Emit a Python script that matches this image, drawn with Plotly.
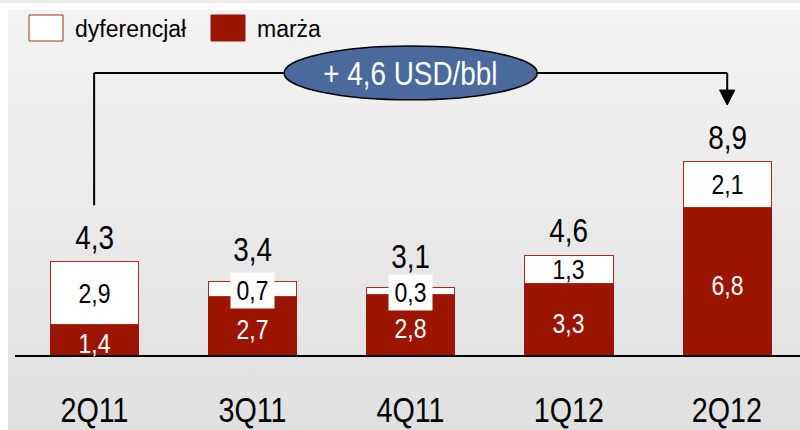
import base64
import json
import plotly.graph_objects as go

categories = ["2Q11", "3Q11", "4Q11", "1Q12", "2Q12"]
marza = [1.4, 2.7, 2.8, 3.3, 6.8]
dyferencjal = [2.9, 0.7, 0.3, 1.3, 2.1]
totals = [4.3, 3.4, 3.1, 4.6, 8.9]
change_label = "+ 4,6 USD/bbl"
legend_names = ["dyferencjał", "marża"]

RED = "#9C1502"
FONT = "Liberation Sans, Arial, sans-serif"

W, H = 800, 430
L, R, T, B = 15, 0, 10, 75
PW, PH = W - L - R, H - T - B


def px(x):
    return (x - L) / PW


def py(y):
    return (H - B - y) / PH


def fmt(v):
    return f"{v:.1f}".replace(".", ",")


fig = go.Figure()
fig.add_trace(go.Bar(
    x=categories, y=marza, name=legend_names[1],
    marker=dict(color=RED, line=dict(color=RED, width=1)),
    showlegend=False, hoverinfo="skip",
))
fig.add_trace(go.Bar(
    x=categories, y=dyferencjal, name=legend_names[0],
    marker=dict(color="white", line=dict(color="#B02A1A", width=1)),
    showlegend=False, hoverinfo="skip",
))

for i, c in enumerate(categories):
    # margin label (white, inside red segment)
    fig.add_annotation(x=c, y=marza[i] / 2, text=fmt(marza[i]), showarrow=False,
                       font=dict(size=28, family=FONT, color="white"), yshift=-4)
    # differential label
    mid = marza[i] + dyferencjal[i] / 2
    small = dyferencjal[i] < 1
    fig.add_annotation(x=c, y=mid, text=fmt(dyferencjal[i]), showarrow=False,
                       font=dict(size=28, family=FONT, color="black"),
                       bgcolor="white" if small else "rgba(0,0,0,0)",
                       borderpad=2, yshift=-2 if small else 0)
    # total label
    fig.add_annotation(x=c, y=totals[i], text=fmt(totals[i]), showarrow=False,
                       font=dict(size=34, family=FONT, color="black"),
                       yanchor="middle", yshift=32 if small else 25)

# x tick labels
for c in categories:
    fig.add_annotation(x=c, y=0, yref="paper", text=c, showarrow=False,
                       font=dict(size=35, family=FONT, color="black"),
                       yanchor="middle", yshift=-54)

# connector arrow from first to last category
i0, i1 = 0, len(categories) - 1
imid = (i0 + i1) / 2
y_line = 13.0
y_start = 6.9
y_tip = 11.52
head_h = 0.69
head_w = 0.048
line_style = dict(color="black", width=2)
fig.add_shape(type="line", x0=i0, x1=i0, y0=y_start, y1=y_line, xref="x", yref="y", line=line_style)
fig.add_shape(type="line", x0=i0, x1=i1, y0=y_line, y1=y_line, xref="x", yref="y", line=line_style)
fig.add_shape(type="line", x0=i1, x1=i1, y0=y_line, y1=y_tip + head_h, xref="x", yref="y", line=line_style)
fig.add_trace(go.Scatter(
    x=[i1 - head_w, i1 + head_w, i1, i1 - head_w], y=[y_tip + head_h, y_tip + head_h, y_tip, y_tip + head_h],
    mode="lines", fill="toself", fillcolor="black", line=dict(color="black", width=1),
    showlegend=False, hoverinfo="skip", xaxis="x2", yaxis="y",
))
fig.add_shape(type="circle", x0=imid - 0.8, x1=imid + 0.8, y0=y_line - 1.24, y1=y_line + 1.24,
              xref="x2", yref="y", fillcolor="#4A6A9C", line=dict(color="black", width=1.5))
fig.add_annotation(x=imid, y=y_line, xref="x2", yref="y", text=change_label, showarrow=False,
                   font=dict(size=34, family=FONT, color="white"))

# background gradient panel
svg = ('<svg xmlns="http://www.w3.org/2000/svg" width="100" height="100" preserveAspectRatio="none">'
       '<defs><linearGradient id="g" x1="0" y1="0" x2="0" y2="1">'
       '<stop offset="0" stop-color="#F3F3F3"/><stop offset="1" stop-color="#E0E0E0"/>'
       '</linearGradient></defs><rect width="100" height="100" fill="url(#g)"/></svg>')
src = "data:image/svg+xml;base64," + base64.b64encode(svg.encode()).decode()
fig.add_layout_image(source=src, xref="paper", yref="paper", x=px(8), y=py(10),
                     sizex=px(W) - px(8), sizey=py(10) - py(H), sizing="stretch",
                     xanchor="left", yanchor="top", layer="below")
fig.add_shape(type="rect", xref="paper", yref="paper", x0=px(0), x1=px(W), y0=py(0), y1=py(3),
              fillcolor="#EBEBEB", line=dict(width=0), layer="below")

# manual legend
fig.add_shape(type="rect", xref="paper", yref="paper", x0=px(29), x1=px(63), y0=py(41), y1=py(15),
              fillcolor="white", line=dict(color="#B02A1A", width=1))
fig.add_shape(type="rect", xref="paper", yref="paper", x0=px(211), x1=px(245), y0=py(41), y1=py(15),
              fillcolor=RED, line=dict(color=RED, width=1))
fig.add_annotation(xref="paper", yref="paper", x=px(73), y=py(29), text=legend_names[0],
                   showarrow=False, xanchor="left", yanchor="middle",
                   font=dict(size=23, family=FONT, color="black"))
fig.add_annotation(xref="paper", yref="paper", x=px(255), y=py(29), text=legend_names[1],
                   showarrow=False, xanchor="left", yanchor="middle",
                   font=dict(size=23, family=FONT, color="black"))

fig.update_layout(
    width=W, height=H, margin=dict(l=L, r=R, t=T, b=B),
    paper_bgcolor="white", plot_bgcolor="rgba(0,0,0,0)",
    barmode="stack", bargap=0.443,
    xaxis=dict(type="category", range=[-0.5, 4.46], showticklabels=False, ticks="",
               showline=True, linecolor="black", linewidth=2, showgrid=False, zeroline=False),
    xaxis2=dict(range=[-0.5, 4.46], overlaying="x", visible=False),
    yaxis=dict(range=[0, 15.9], visible=False, showgrid=False, zeroline=False),
)

# the reference uses a narrow typeface: condense the glyphs of the chart labels horizontally
post = """
document.body.style.margin='0';document.body.style.padding='0';
var gd=document.getElementById('{plot_id}');
var skip=%s;
gd.querySelectorAll('text.annotation-text').forEach(function(t){
  if(skip.indexOf(t.textContent)>=0) return;
  var b=t.getBBox(); var cx=b.x+b.width/2;
  var tr=t.getAttribute('transform')||'';
  t.setAttribute('transform', tr+' translate('+cx+' 0) scale(0.82 1) translate('+(-cx)+' 0)');
});
""" % json.dumps(legend_names)
fig.write_html("out.html", post_script=post, config={"displayModeBar": False})
